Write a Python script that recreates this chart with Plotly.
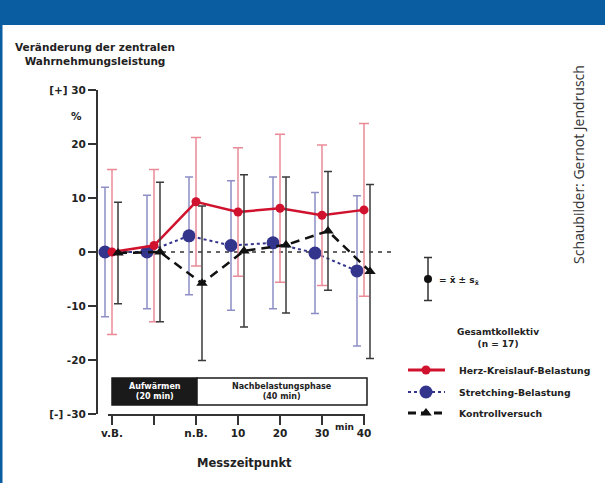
import plotly.graph_objects as go

W, H = 605, 483

# ---------------- data ----------------
categories = ["v.B.", "", "n.B.", "10", "20", "30", "40"]
y_ticks = [-30, -20, -10, 0, 10, 20, 30]
y_ticktext = ["[-]\u00a0-30", "-20", "-10", "0", "10", "20", "[+]\u00a030"]

herz_mean = [0.0, 1.2, 9.3, 7.4, 8.1, 6.8, 7.8]
herz_sd = [15.3, 14.1, 11.9, 11.9, 13.7, 13.0, 16.0]

stretch_mean = [0.0, 0.0, 3.0, 1.2, 1.7, -0.2, -3.5]
stretch_sd = [12.0, 10.5, 10.9, 12.0, 12.2, 11.2, 13.9]

kontroll_mean = [-0.2, 0.0, -5.8, 0.2, 1.3, 3.9, -3.6]
kontroll_sd = [9.4, 12.9, 14.3, 14.1, 12.6, 11.0, 16.1]

series_names = ["Herz-Kreislauf-Belastung", "Stretching-Belastung", "Kontrollversuch"]

# ---------------- layout helpers ----------------
PX0, STEP = 112.0, 42.0          # pixel of category 0, pixels per category
def px(x):
    return x / W
def py(y):
    return 1 - y / H
def xdat(p):
    return (p - PX0) / STEP

Y_TOP, Y_BOT = 90.0, 414.0
AX_LEFT = 97.7
DATA_RIGHT = 420.0
XAX_L, XAX_R = 108.0, 365.0

off_blue, off_red, off_black = -7 / STEP, 0.0, 6 / STEP
idx = list(range(len(categories)))

RED = "#d0122e"
RED_ERR = "#ea8a97"
BLUE = "#33348c"
BLUE_ERR = "#8d8ec6"
BLACK = "#111111"
TXT = "#222222"
FONT = "DejaVu Sans"

fig = go.Figure()

# Stretching (blue)
fig.add_trace(go.Scatter(
    x=[i + off_blue for i in idx], y=stretch_mean, mode="lines+markers",
    name=series_names[1], showlegend=False, cliponaxis=False,
    line=dict(color=BLUE, width=2, dash="dot"),
    marker=dict(symbol="circle", size=13, color=BLUE),
    error_y=dict(type="data", array=stretch_sd, visible=True, color=BLUE_ERR, thickness=1.5, width=4),
))
# Herz-Kreislauf (red)
fig.add_trace(go.Scatter(
    x=[i + off_red for i in idx], y=herz_mean, mode="lines+markers",
    name=series_names[0], showlegend=False, cliponaxis=False,
    line=dict(color=RED, width=2.5),
    marker=dict(symbol="circle", size=9, color=RED),
    error_y=dict(type="data", array=herz_sd, visible=True, color=RED_ERR, thickness=1.5, width=5),
))
# Kontrollversuch (black)
fig.add_trace(go.Scatter(
    x=[i + off_black for i in idx], y=kontroll_mean, mode="lines+markers",
    name=series_names[2], showlegend=False, cliponaxis=False,
    line=dict(color=BLACK, width=2.5, dash="9px,6px"),
    marker=dict(symbol="triangle-up", size=10, color=BLACK),
    error_y=dict(type="data", array=kontroll_sd, visible=True, color="#3a3a3a", thickness=1.5, width=4),
))

# ---------------- custom legend on a pixel overlay axis ----------------
leg_x0, leg_x1, leg_mx = 408, 445, 426
leg_y = [370, 392, 413]
leg_styles = [
    dict(line=dict(color=RED, width=3), marker=dict(symbol="circle", size=9, color=RED)),
    dict(line=dict(color=BLUE, width=2, dash="dot"), marker=dict(symbol="circle", size=13, color=BLUE)),
    dict(line=dict(color=BLACK, width=3, dash="8px,5px"), marker=dict(symbol="triangle-up", size=10, color=BLACK)),
]
for yy, st in zip(leg_y, leg_styles):
    fig.add_trace(go.Scatter(x=[leg_x0, leg_x1], y=[yy, yy], mode="lines", line=st["line"],
                             xaxis="x2", yaxis="y2", showlegend=False, hoverinfo="skip", cliponaxis=False))
    fig.add_trace(go.Scatter(x=[leg_mx], y=[yy], mode="markers", marker=st["marker"],
                             xaxis="x2", yaxis="y2", showlegend=False, hoverinfo="skip", cliponaxis=False))
# mean +- sd symbol
fig.add_trace(go.Scatter(x=[428], y=[279], mode="markers", marker=dict(symbol="circle", size=8, color=BLACK),
                         error_y=dict(type="constant", value=21.5, color="#333", thickness=1.5, width=4),
                         xaxis="x2", yaxis="y2", showlegend=False, hoverinfo="skip", cliponaxis=False))

# ---------------- shapes ----------------
shapes = [
    # header band
    dict(type="rect", xref="paper", yref="paper", x0=0, x1=1, y0=py(25), y1=1,
         fillcolor="#0b5da2", line=dict(width=0), layer="below"),
    # left border
    dict(type="rect", xref="paper", yref="paper", x0=0, x1=px(2.5), y0=0, y1=1,
         fillcolor="#0b5da2", line=dict(width=0), layer="below"),
    # zero reference line
    dict(type="line", xref="x", yref="y", x0=xdat(108), x1=xdat(395), y0=0, y1=0,
         line=dict(color="#333", width=1.5, dash="4px,5px"), layer="below"),
    # phase boxes
    dict(type="rect", xref="paper", yref="paper", x0=px(112), x1=px(197), y0=py(405), y1=py(378),
         fillcolor="#1a1a1a", line=dict(color="#1a1a1a", width=1.5)),
    dict(type="rect", xref="paper", yref="paper", x0=px(197), x1=px(367), y0=py(405), y1=py(378),
         fillcolor="white", line=dict(color="#1a1a1a", width=1.5)),
]

def ann(text, x, y, size=10, bold=True, color=TXT, xanchor="center", yanchor="middle", family=FONT, angle=0, align="center"):
    return dict(text=text, x=px(x), y=py(y), xref="paper", yref="paper", showarrow=False,
                xanchor=xanchor, yanchor=yanchor, textangle=angle, align=align,
                font=dict(family=family, size=size, color=color, weight="bold" if bold else "normal"))

annotations = [
    ann("Veränderung der zentralen<br>Wahrnehmungsleistung", 95, 54, size=10.5),
    ann("%", 76, 116, size=10.5),
    ann("min", 344, 427, size=9),
    ann("Messzeitpunkt", 244, 463, size=11.5),
    ann("Aufwärmen<br>(20 min)", 155, 391, size=8, color="white"),
    ann("Nachbelastungsphase<br>(40 min)", 282, 391, size=8),
    ann("= x\u0304 ± s<sub>x\u0304</sub>", 437, 280, size=9, xanchor="left"),
    ann("Gesamtkollektiv<br>(n = 17)", 498, 338, size=9),
    ann(series_names[0], 457, 370, size=9.3, xanchor="left"),
    ann(series_names[1], 457, 392, size=9.3, xanchor="left"),
    ann(series_names[2], 457, 413, size=9.3, xanchor="left"),
    ann("Schaubilder: Gernot Jendrusch", 578, 165, size=14, bold=False, color="#333",
        family="Open Sans", angle=-90),
]

fig.update_layout(
    width=W, height=H,
    margin=dict(l=0, r=0, t=0, b=0, autoexpand=False),
    paper_bgcolor="white", plot_bgcolor="rgba(0,0,0,0)",
    showlegend=False,
    font=dict(family=FONT, size=11, color=TXT),
    shapes=shapes, annotations=annotations,
    # data x axis (hidden)
    xaxis=dict(domain=[px(AX_LEFT), px(DATA_RIGHT)], range=[xdat(AX_LEFT), xdat(DATA_RIGHT)],
               visible=False, anchor="y"),
    # displayed x axis (offset style, only spanning the categories)
    xaxis3=dict(domain=[px(XAX_L), px(XAX_R)], range=[xdat(XAX_L), xdat(XAX_R)], anchor="y",
                tickmode="array", tickvals=idx, ticktext=categories,
                showline=True, linecolor="#333", linewidth=1.5,
                ticks="outside", ticklen=9, tickwidth=1.5, tickcolor="#333",
                showgrid=False, zeroline=False,
                tickfont=dict(family=FONT, size=10.5, color=TXT, weight="bold")),
    yaxis=dict(domain=[py(Y_BOT), py(Y_TOP)], range=[-30, 30], anchor="x",
               tickmode="array", tickvals=y_ticks, ticktext=y_ticktext,
               showline=True, linecolor="#333", linewidth=1.5,
               ticks="outside", ticklen=8, tickwidth=1.5, tickcolor="#333",
               showgrid=False, zeroline=False,
               tickfont=dict(family=FONT, size=10.5, color=TXT, weight="bold")),
    # pixel overlay axes for legend
    xaxis2=dict(domain=[0, 1], range=[0, W], visible=False, anchor="y2"),
    yaxis2=dict(domain=[0, 1], range=[H, 0], visible=False, anchor="x2"),
)

# attach an invisible trace so the display axis x3 is drawn
fig.add_trace(go.Scatter(x=[0], y=[0], xaxis="x3", yaxis="y", mode="markers",
                         marker=dict(opacity=0), showlegend=False, hoverinfo="skip"))

fig.write_html("out.html", config={"displayModeBar": False},
               post_script="document.body.style.margin='0';document.body.style.overflow='hidden';")
